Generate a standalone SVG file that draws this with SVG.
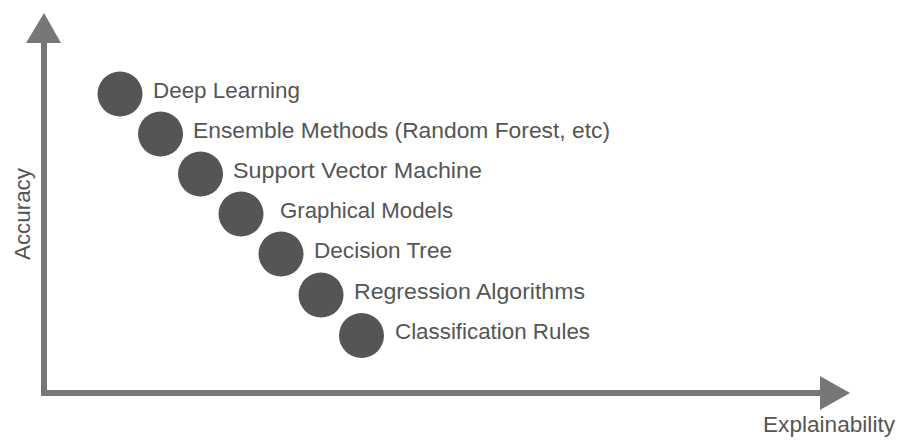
<svg xmlns="http://www.w3.org/2000/svg" width="899" height="440" viewBox="0 0 899 440">
<style>
.axis{stroke:#777;stroke-width:6;fill:none}
.head{fill:#777}
.dot{fill:#555}
.lbl{font-family:"Liberation Sans",Arial,sans-serif;font-size:22.5px;fill:#555}
</style>
<rect width="899" height="440" fill="#fff"/>
<g id="axes">
<path class="axis" d="M44,40 V393 H822"/>
<polygon class="head" points="44,13 61,43 26,43"/>
<polygon class="head" points="850,393 820,376 820,410"/>
<text class="lbl" x="895" y="432" text-anchor="end" textLength="132" lengthAdjust="spacingAndGlyphs">Explainability</text>
<text class="lbl" transform="translate(30,214) rotate(-90)" text-anchor="middle" textLength="92" lengthAdjust="spacingAndGlyphs">Accuracy</text>
</g>
<g id="n1"><circle class="dot" cx="120" cy="94" r="22.5"/><text class="lbl" x="153" y="98" textLength="147" lengthAdjust="spacingAndGlyphs">Deep Learning</text></g>
<g id="n2"><circle class="dot" cx="160.5" cy="134" r="22.5"/><text class="lbl" x="193" y="138" textLength="417" lengthAdjust="spacingAndGlyphs">Ensemble Methods (Random Forest, etc)</text></g>
<g id="n3"><circle class="dot" cx="200.5" cy="174" r="22.5"/><text class="lbl" x="233" y="178" textLength="249" lengthAdjust="spacingAndGlyphs">Support Vector Machine</text></g>
<g id="n4"><circle class="dot" cx="241" cy="214" r="22.5"/><text class="lbl" x="280" y="218" textLength="173" lengthAdjust="spacingAndGlyphs">Graphical Models</text></g>
<g id="n5"><circle class="dot" cx="281" cy="254" r="22.5"/><text class="lbl" x="314" y="258" textLength="138" lengthAdjust="spacingAndGlyphs">Decision Tree</text></g>
<g id="n6"><circle class="dot" cx="321" cy="295" r="22.5"/><text class="lbl" x="354" y="299" textLength="231" lengthAdjust="spacingAndGlyphs">Regression Algorithms</text></g>
<g id="n7"><circle class="dot" cx="361.5" cy="335.5" r="22.5"/><text class="lbl" x="395" y="339" textLength="195" lengthAdjust="spacingAndGlyphs">Classification Rules</text></g>
</svg>
